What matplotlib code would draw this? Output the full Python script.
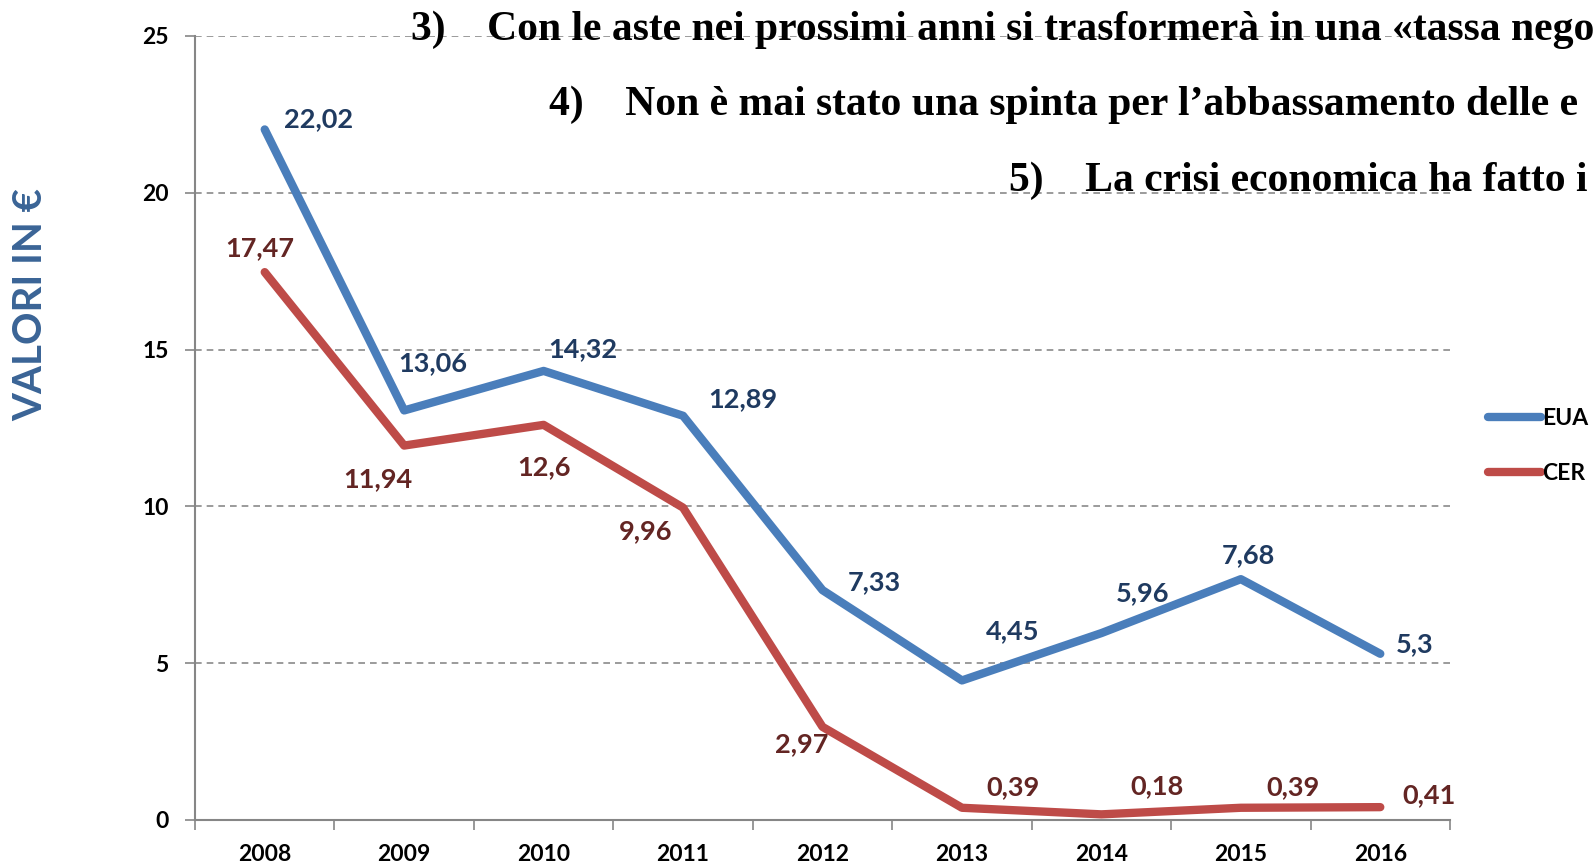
import numpy as np
import matplotlib
matplotlib.use('Agg')
import matplotlib.pyplot as plt

years = ['2008', '2009', '2010', '2011', '2012', '2013', '2014', '2015', '2016']
eua = [22.02, 13.06, 14.32, 12.89, 7.33, 4.45, 5.96, 7.68, 5.3]
cer = [17.47, 11.94, 12.6, 9.96, 2.97, 0.39, 0.18, 0.39, 0.41]
eua_lab = ['22,02', '13,06', '14,32', '12,89', '7,33', '4,45', '5,96', '7,68', '5,3']
cer_lab = ['17,47', '11,94', '12,6', '9,96', '2,97', '0,39', '0,18', '0,39', '0,41']

notes = ['3)    Con le aste nei prossimi anni si trasformerà in una «tassa nego',
         '4)    Non è mai stato una spinta per l\u2019abbassamento delle e',
         '5)    La crisi economica ha fatto i']

# label offsets in pixels (dx, dy)
eua_off = [(54, 10), (29, 47), (39, 22), (60, 17), (52, 8), (51, 49), (41, 40), (8, 24), (34, 10)]
cer_off = [(-5, 24), (-26, -34), (0, -42), (-37, -23), (-21, -17), (51, 21), (56, 28), (52, 21), (49, 12)]

plt.rcParams['font.family'] = ['Lato', 'DejaVu Sans']

fig = plt.figure(figsize=(15.93, 8.64), dpi=100)
ax = fig.add_axes([195/1593, 44/864, 1255/1593, (820-36)/864])

x = np.arange(len(years))
ax.plot(x, eua, color='#4a7ebb', lw=6, solid_capstyle='round', solid_joinstyle='round', label='EUA', zorder=3)
ax.plot(x, cer, color='#be4b48', lw=6, solid_capstyle='round', solid_joinstyle='round', label='CER', zorder=3)

for i in range(len(years)):
    ax.annotate(eua_lab[i], (x[i], eua[i]), xytext=eua_off[i], textcoords='offset pixels',
                ha='center', va='center', color='#1f3a60', fontsize=19.5, fontweight='bold')
    ax.annotate(cer_lab[i], (x[i], cer[i]), xytext=cer_off[i], textcoords='offset pixels',
                ha='center', va='center', color='#632523', fontsize=19.5, fontweight='bold')

ax.set_xlim(-0.5, len(years) - 0.5)
ax.set_ylim(0, 25)
ax.set_yticks([0, 5, 10, 15, 20, 25])
ax.set_xticks(x)
ax.set_xticklabels(years)
ax.set_xticks(np.arange(len(years) + 1) - 0.5, minor=True)
ax.tick_params(axis='x', which='major', length=0, pad=17)
ax.tick_params(axis='x', which='minor', length=7, color='#868686', width=1.2)
ax.tick_params(axis='y', length=7, color='#868686', width=1.2, pad=12)
for t in ax.get_xticklabels() + ax.get_yticklabels():
    t.set_fontweight('bold')
    t.set_fontsize(16.5)

ax.yaxis.grid(True, linestyle=(0, (4, 3)), color='#8a8a8a', lw=1.2)
ax.set_axisbelow(True)
for s in ['top', 'right']:
    ax.spines[s].set_visible(False)
for s in ['left', 'bottom']:
    ax.spines[s].set_color('#868686')
    ax.spines[s].set_linewidth(1.5)

fig.text(31/1593, 1 - 305/864, 'VALORI IN €', rotation=90, ha='center', va='center',
         color='#3a6496', fontsize=29, fontweight='bold')

leg = fig.legend(loc='center left', bbox_to_anchor=(1488/1593, 1 - 446/864), frameon=False,
                 handlelength=2.3, handletextpad=0.06, labelspacing=1.45, borderpad=0,
                 borderaxespad=0, prop={'weight': 'bold', 'size': 16.5})

note_pos = [(411, 30), (549, 105), (1009, 181)]
for (nx, ny), txt in zip(note_pos, notes):
    fig.text(nx/1593, 1 - ny/864, txt, ha='left', va='center', fontsize=30,
             family='Liberation Serif', fontweight='bold', color='black')

fig.savefig('out.png', dpi=100)
